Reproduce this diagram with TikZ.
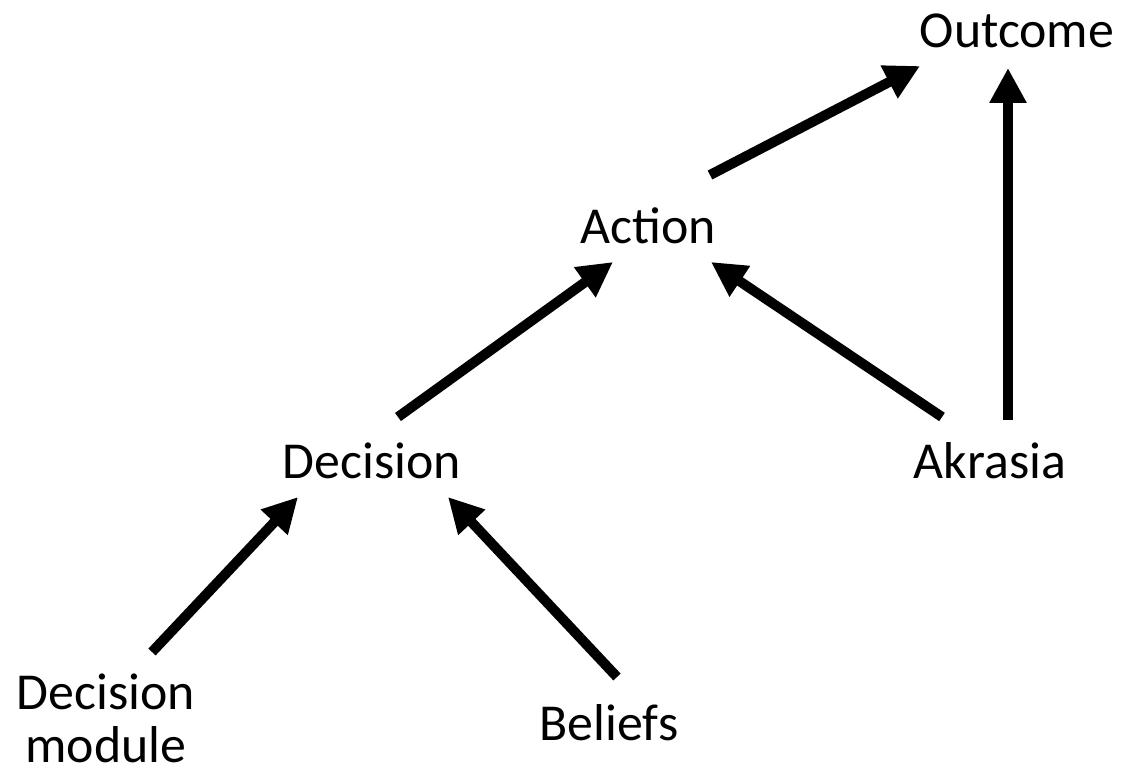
\documentclass[tikz,border=0pt]{standalone}
\usepackage{fontspec}
\setmainfont{Carlito}
\usepackage{tikz}
\usetikzlibrary{arrows.meta}

\begin{document}
\begin{tikzpicture}[x=0.02cm,y=-0.02cm,
    word/.style = {inner sep=0pt, align=center,
      font=\fontsize{29.5pt}{30pt}\selectfont},
    link/.style = {line width=5.7pt,
      -{Triangle[length=19.8pt,width=19.8pt]}}]
    \useasboundingbox (0,0) rectangle (1130,782);
    \node[word,anchor=base] (out) at (1017,47) {Outcome};
    \node[word,anchor=base] (act) at (648,243) {Action};
    \node[word,anchor=base] (dec) at (372,478) {Decision};
    \node[word,anchor=base] (akr) at (990,478) {Akrasia};
    \node[word] (mod) at (106,718) {Decision\\module};
    \node[word,anchor=base] (bel) at (609,740) {Beliefs};
    % arrows
    \draw[link] ([shift={(62,-68)}]act.base) -- ([shift={(-97,19)}]out.base);
    \draw[link] ([shift={(18,-58)}]akr.base) -- ([shift={(-9,21)}]out.base);
    \draw[link] ([shift={(26,-61)}]dec.base) -- ([shift={(-35,19)}]act.base);
    \draw[link] ([shift={(-48,-61)}]akr.base) -- ([shift={(63,19)}]act.base);
    \draw[link] ([shift={(46,-66)}]mod.center) -- ([shift={(-74,19)}]dec.base);
    \draw[link] ([shift={(8,-63)}]bel.base) -- ([shift={(76,19)}]dec.base);
\end{tikzpicture}
\end{document}
